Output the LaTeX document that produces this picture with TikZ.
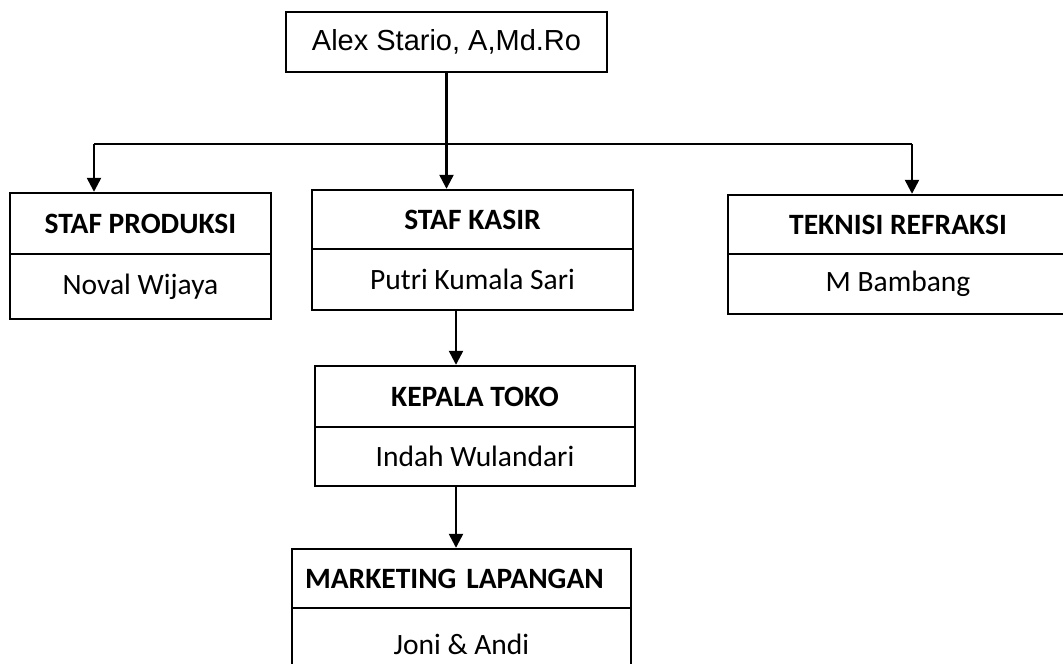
\documentclass[tikz,border=0pt]{standalone}
\usepackage{fontspec}
\setmainfont{Carlito}
\newfontfamily\arialfont{Liberation Sans}
\usetikzlibrary{arrows.meta}
\begin{document}
\begin{tikzpicture}[x=1pt,y=-1pt,
  boxbase/.style={draw=black, line width=2.4pt, rectangle, inner sep=0pt, font=\fontsize{29.5}{32}\selectfont},
  hdr/.style={boxbase, font=\fontsize{29.5}{32}\selectfont\bfseries},
  body/.style={boxbase},
  topbox/.style={boxbase, font=\fontsize{29}{32}\selectfont\arialfont},
  arr/.style={line width=2.4pt, -{Triangle[length=14pt,width=14pt]}},
  thinline/.style={line width=1.2pt}]
\useasboundingbox (0,0) rectangle (1063,664);
\clip (0,0) rectangle (1063,664);

% top
\node[topbox, minimum width=321pt, minimum height=60pt] (top) at (446.5,42) {Alex Stario, A,Md.Ro};

% staf produksi
\node[hdr, minimum width=261pt, minimum height=61pt] (prod1) at (140.5,223.5) {STAF PRODUKSI};
\node[body, minimum width=261pt, minimum height=65pt] (prod2) at (140.5,286.5) {Noval Wijaya};

% staf kasir
\node[hdr, minimum width=321pt, minimum height=59pt] (kas1) at (472.5,219.5) {STAF KASIR};
\node[body, minimum width=321pt, minimum height=61pt] (kas2) at (472.5,279.5) {Putri Kumala Sari};

% kepala toko
\node[hdr, minimum width=320pt, minimum height=61pt] (kep1) at (475,396.5) {KEPALA TOKO};
\node[body, minimum width=320pt, minimum height=59pt] (kep2) at (475,456.5) {Indah Wulandari};

% marketing lapangan
\node[hdr, minimum width=339pt, minimum height=59pt, text width=313pt, align=left] (mkt1) at (461.5,578.5) {MARKETING LAPANGAN};
\node[body, minimum width=339pt, minimum height=72pt] (mkt2) at (461.5,644) {Joni \& Andi};

% teknisi refraksi
\node[hdr, minimum width=340pt, minimum height=59pt] (tek1) at (898,224.5) {TEKNISI REFRAKSI};
\node[body, minimum width=340pt, minimum height=60pt] (tek2) at (898,284) {M Bambang};

% connectors
\coordinate (hl) at (94,144);
\coordinate (hr) at (912,144);
\coordinate (kx) at (456,0);
\draw[thinline] (hl) -- (hr);
\draw[arr] (top.south) -- (top.south |- kas1.north);
\draw[arr] (hl) -- (hl |- prod1.north);
\draw[arr] (hr) -- (hr |- tek1.north);
\draw[arr] (kas2.south -| kx) -- (kep1.north -| kx);
\draw[arr] (kep2.south -| kx) -- (mkt1.north -| kx);
\end{tikzpicture}
\end{document}
